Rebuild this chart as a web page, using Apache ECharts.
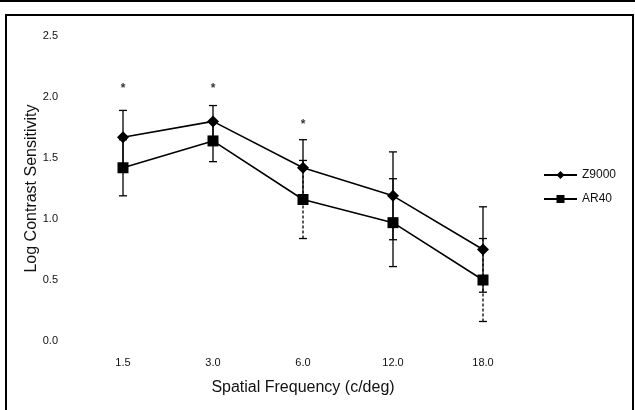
<!DOCTYPE html>
<html><head><meta charset="utf-8">
<script src="https://cdn.jsdelivr.net/npm/echarts@6/dist/echarts.min.js"></script>
<style>html,body{margin:0;padding:0;background:#fff}#c{width:635px;height:410px}</style>
</head><body><div id="c"></div>
<script>
var categories = ['1.5', '3.0', '6.0', '12.0', '18.0'];
var z9000 = [1.67, 1.80, 1.42, 1.19, 0.75];
var ar40 = [1.42, 1.64, 1.16, 0.97, 0.50];
var z9000Err = [0.22, 0.13, 0.23, 0.36, 0.35];
var ar40Err = [0.23, 0.17, 0.32, 0.36, 0.34];
var sigCats = ['1.5', '3.0', '6.0'];
var sigY = [2.07, 2.07, 1.77];
var yTicks = [0, 0.5, 1.0, 1.5, 2.0, 2.5];

// style only: which AR40 error bars are printed dashed
var ar40DashStyle = [false, false, true, false, true];

var FONT = 'Liberation Sans, Arial, sans-serif';
function errData(vals, errs) {
  return vals.map(function (v, i) { return [i, v - errs[i], v + errs[i]]; });
}
function errRender(dashArr) {
  return function (params, api) {
    var x = api.value(0);
    var lo = api.coord([x, api.value(1)]);
    var hi = api.coord([x, api.value(2)]);
    var cw = 4;
    var dashed = dashArr && dashArr[params.dataIndex];
    var st = { stroke: '#000', lineWidth: 1.3, lineDash: dashed ? [3, 2] : null };
    return { type: 'group', children: [
      { type: 'line', shape: { x1: lo[0], y1: lo[1], x2: hi[0], y2: hi[1] }, style: st },
      { type: 'line', shape: { x1: hi[0] - cw, y1: hi[1], x2: hi[0] + cw, y2: hi[1] }, style: { stroke: '#000', lineWidth: 1.3 } },
      { type: 'line', shape: { x1: lo[0] - cw, y1: lo[1], x2: lo[0] + cw, y2: lo[1] }, style: { stroke: '#000', lineWidth: 1.3 } }
    ]};
  };
}
var chart = echarts.init(document.getElementById('c'));
chart.setOption({
  animation: false,
  backgroundColor: '#fff',
  textStyle: { fontFamily: FONT },
  graphic: [
    { type: 'rect', shape: { x: 6, y: 15, width: 627, height: 420 }, style: { fill: 'none', stroke: '#000', lineWidth: 2 }, silent: true },
    { type: 'line', shape: { x1: 0, y1: 1, x2: 635, y2: 1 }, style: { stroke: '#000', lineWidth: 2 }, silent: true }
  ],
  grid: { left: 78, right: 107, top: 36, bottom: 69, containLabel: false },
  legend: {
    orient: 'vertical', left: 538, top: 164, itemWidth: 33, itemHeight: 10, itemGap: 12,
    textStyle: { fontFamily: FONT, fontSize: 12, color: '#111' },
    data: ['Z9000', 'AR40']
  },
  xAxis: {
    type: 'category', data: categories, boundaryGap: true,
    axisLine: { show: false }, axisTick: { show: false },
    axisLabel: { color: '#111', fontSize: 11, margin: 16, fontFamily: FONT },
    name: 'Spatial Frequency (c/deg)', nameLocation: 'middle', nameGap: 39,
    nameMoveOverlap: false,
    nameTextStyle: { fontSize: 16, color: '#111', fontFamily: FONT }
  },
  yAxis: {
    type: 'value', min: 0, max: 2.5, interval: 0.5,
    axisLine: { show: false }, axisTick: { show: false }, splitLine: { show: false },
    axisLabel: { color: '#111', fontSize: 11, margin: 20, fontFamily: FONT,
      formatter: function (v) { return v.toFixed(1); } },
    name: 'Log Contrast Sensitivity', nameLocation: 'middle', nameGap: 38, nameRotate: 90,
    nameMoveOverlap: false,
    nameTextStyle: { fontSize: 16, color: '#111', fontFamily: FONT }
  },
  series: [
    { type: 'custom', name: 'zerr', renderItem: errRender(null), data: errData(z9000, z9000Err), z: 1, silent: true },
    { type: 'custom', name: 'aerr', renderItem: errRender(ar40DashStyle), data: errData(ar40, ar40Err), z: 1, silent: true },
    { type: 'line', name: 'Z9000', data: z9000, symbol: 'diamond', symbolSize: 12,
      lineStyle: { color: '#000', width: 1.6 }, itemStyle: { color: '#000' }, z: 3 },
    { type: 'line', name: 'AR40', data: ar40, symbol: 'rect', symbolSize: 11,
      lineStyle: { color: '#000', width: 1.6 }, itemStyle: { color: '#000' }, z: 3 },
    { type: 'scatter', name: 'sig', symbolSize: 0, silent: true,
      data: sigCats.map(function (c, i) { return [c, sigY[i]]; }),
      label: { show: true, position: 'inside', formatter: '*', fontSize: 12, fontWeight: 'bold', color: '#000', fontFamily: FONT } }
  ]
});
</script></body></html>
